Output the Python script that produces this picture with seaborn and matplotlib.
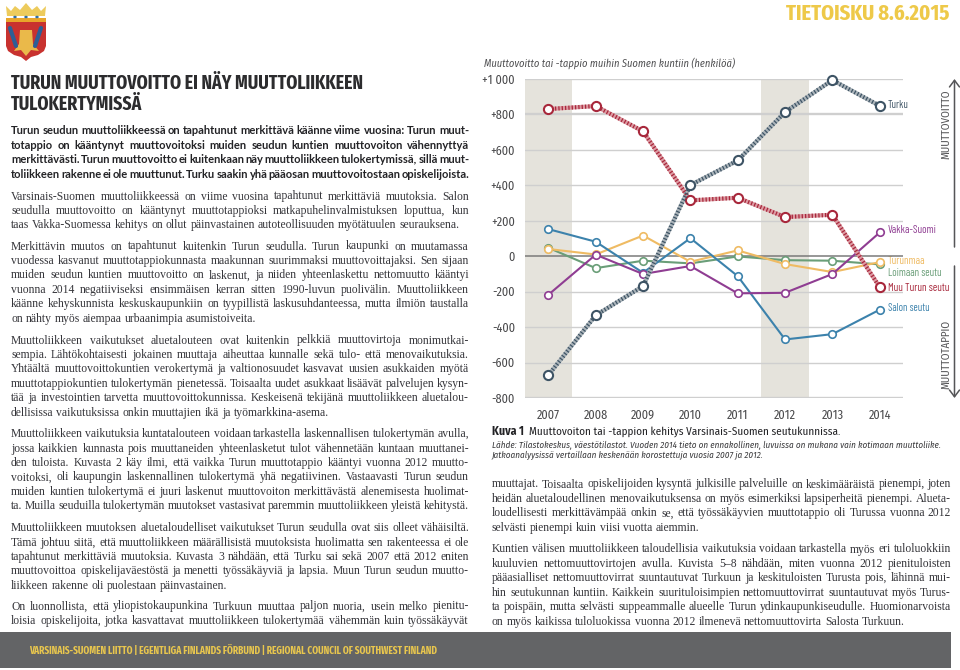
import matplotlib
matplotlib.use("Agg")
import matplotlib.pyplot as plt
from matplotlib.patches import Polygon, Rectangle, Ellipse
import pandas as pd
import seaborn as sns

years = [2007, 2008, 2009, 2010, 2011, 2012, 2013, 2014]
turku = [-671, -334, -169, 400, 539, 812, 992, 847]
muu_turun = [829, 846, 703, 314, 329, 220, 233, -175]
salo = [152, 81, -94, 101, -113, -470, -440, -302]
vakka = [-218, 8, -101, -56, -210, -207, -101, 133]
turunmaa = [40, 9, 116, -32, 32, -45, -90, -34]
loimaa = [47, -68, -26, -41, -2, -23, -26, -47]
y_ticks = [-800, -600, -400, -200, 0, 200, 400, 600, 800, 1000]
y_labels = ["-800", "-600", "-400", "-200", "0", "+200", "+400", "+600", "+800", "+1 000"]
highlight_years = [2007, 2012]

title_lines = ["TURUN MUUTTOVOITTO EI NÄY MUUTTOLIIKKEEN", "TULOKERTYMISSÄ"]
lead_lines = [
    "Turun seudun muuttoliikkeessä on tapahtunut merkittävä käänne viime vuosina: Turun muut-",
    "totappio on kääntynyt muuttovoitoksi muiden seudun kuntien muuttovoiton vähennyttyä",
    "merkittävästi. Turun muuttovoitto ei kuitenkaan näy muuttoliikkeen tulokertymissä, sillä muut-",
    "toliikkeen rakenne ei ole muuttunut. Turku saakin yhä pääosan muuttovoitostaan opiskelijoista.",
]
left_paragraphs = [
    (195, ["Varsinais-Suomen muuttoliikkeessä on viime vuosina tapahtunut merkittäviä muutoksia. Salon",
           "seudulla muuttovoitto on kääntynyt muuttotappioksi matkapuhelinvalmistuksen loputtua, kun",
           "taas Vakka-Suomessa kehitys on ollut päinvastainen autoteollisuuden myötätuulen seurauksena."], False),
    (245, ["Merkittävin muutos on tapahtunut kuitenkin Turun seudulla. Turun kaupunki on muutamassa",
           "vuodessa kasvanut muuttotappiokunnasta maakunnan suurimmaksi muuttovoittajaksi. Sen sijaan",
           "muiden seudun kuntien muuttovoitto on laskenut, ja niiden yhteenlaskettu nettomuutto kääntyi",
           "vuonna 2014 negatiiviseksi ensimmäisen kerran sitten 1990-luvun puolivälin. Muuttoliikkeen",
           "käänne kehyskunnista keskuskaupunkiin on tyypillistä laskusuhdanteessa, mutta ilmiön taustalla",
           "on nähty myös aiempaa urbaanimpia asumistoiveita."], False),
    (339, ["Muuttoliikkeen vaikutukset aluetalouteen ovat kuitenkin pelkkiä muuttovirtoja monimutkai-",
           "sempia. Lähtökohtaisesti jokainen muuttaja aiheuttaa kunnalle sekä tulo- että menovaikutuksia.",
           "Yhtäältä muuttovoittokuntien verokertymä ja valtionosuudet kasvavat uusien asukkaiden myötä",
           "muuttotappiokuntien tulokertymän pienetessä. Toisaalta uudet asukkaat lisäävät palvelujen kysyn-",
           "tää ja investointien tarvetta muuttovoittokunnissa. Keskeisenä tekijänä muuttoliikkeen aluetalou-",
           "dellisissa vaikutuksissa onkin muuttajien ikä ja työmarkkina-asema."], False),
    (432.7, ["Muuttoliikkeen vaikutuksia kuntatalouteen voidaan tarkastella laskennallisen tulokertymän avulla,",
             "jossa kaikkien kunnasta pois muuttaneiden yhteenlasketut tulot vähennetään kuntaan muuttanei-",
             "den tuloista. Kuvasta 2 käy ilmi, että vaikka Turun muuttotappio kääntyi vuonna 2012 muutto-",
             "voitoksi, oli kaupungin laskennallinen tulokertymä yhä negatiivinen. Vastaavasti Turun seudun",
             "muiden kuntien tulokertymä ei juuri laskenut muuttovoiton merkittävästä alenemisesta huolimat-",
             "ta. Muilla seuduilla tulokertymän muutokset vastasivat paremmin muuttoliikkeen yleistä kehitystä."], True),
    (526.7, ["Muuttoliikkeen muutoksen aluetaloudelliset vaikutukset Turun seudulla ovat siis olleet vähäisiltä.",
             "Tämä johtuu siitä, että muuttoliikkeen määrällisistä muutoksista huolimatta sen rakenteessa ei ole",
             "tapahtunut merkittäviä muutoksia. Kuvasta 3 nähdään, että Turku sai sekä 2007 että 2012 eniten",
             "muuttovoittoa opiskelijaväestöstä ja menetti työssäkäyviä ja lapsia. Muun Turun seudun muutto-",
             "liikkeen rakenne oli puolestaan päinvastainen."], False),
    (605, ["On luonnollista, että yliopistokaupunkina Turkuun muuttaa paljon nuoria, usein melko pienitu-",
           "loisia opiskelijoita, jotka kasvattavat muuttoliikkeen tulokertymää vähemmän kuin työssäkäyvät"], True),
]
right_paragraphs = [
    (483, ["muuttajat. Toisaalta opiskelijoiden kysyntä julkisille palveluille on keskimääräistä pienempi, joten",
           "heidän aluetaloudellinen menovaikutuksensa on myös esimerkiksi lapsiperheitä pienempi. Alueta-",
           "loudellisesti merkittävämpää onkin se, että työssäkäyvien muuttotappio oli Turussa vuonna 2012",
           "selvästi pienempi kuin viisi vuotta aiemmin."], False),
    (548, ["Kuntien välisen muuttoliikkeen taloudellisia vaikutuksia voidaan tarkastella myös eri tuloluokkiin",
           "kuuluvien nettomuuttovirtojen avulla. Kuvista 5–8 nähdään, miten vuonna 2012 pienituloisten",
           "pääasialliset nettomuuttovirrat suuntautuvat Turkuun ja keskituloisten Turusta pois, lähinnä mui-",
           "hin seutukunnan kuntiin. Kaikkein suurituloisimpien nettomuuttovirrat suuntautuvat myös Turus-",
           "ta poispäin, mutta selvästi suppeammalle alueelle Turun ydinkaupunkiseudulle. Huomionarvoista",
           "on myös kaikissa tuloluokissa vuonna 2012 ilmenevä nettomuuttovirta Salosta Turkuun."], False),
]

W, H = 960, 670
sns.set_theme(style="white")
plt.rcParams["font.family"] = ["Lato", "DejaVu Sans"]
fig = plt.figure(figsize=(W / 100, H / 100), dpi=100)
page = fig.add_axes([0, 0, 1, 1], zorder=0)
page.set_xlim(0, W)
page.set_ylim(H, 0)
page.axis("off")
renderer = fig.canvas.get_renderer()

NARROW = ["Fira Sans Extra Condensed", "Barlow Condensed", "Lato"]
LABEL_FONT = ["Barlow Condensed", "Fira Sans Extra Condensed", "Lato"]
COND = ["Fira Sans Condensed", "Lato"]
SERIF = ["Liberation Serif", "DejaVu Serif"]
SERIF_SIZE = 8.4
LEAD_SIZE = 8.0
TEXT_C = "#35353a"


def width_of(word, **kw):
    t = page.text(0, 0, word, **kw)
    w = t.get_window_extent(renderer).width
    t.remove()
    return w


def fit_text(x, y, s, target_w, size0, **kw):
    size = size0 * target_w / width_of(s, fontsize=size0, **kw)
    return page.text(x, y, s, fontsize=size, va="center", ha="left", **kw)


def set_line(x0, x1, y, line, justify, **kw):
    words = line.split(" ")
    widths = [width_of(w, **kw) for w in words]
    space = width_of("n n", **kw) - width_of("nn", **kw)
    if justify and len(words) > 1:
        space = (x1 - x0 - sum(widths)) / (len(words) - 1)
    x = x0
    for w, wd in zip(words, widths):
        page.text(x, y, w, va="center_baseline", ha="left", **kw)
        x += wd + space


def paragraphs(blocks, x0, x1):
    for y0, lines, last_full in blocks:
        for i, line in enumerate(lines):
            just = last_full or i < len(lines) - 1
            set_line(x0, x1, y0 + i * 14.42, line, just, family=SERIF,
                     fontsize=SERIF_SIZE, color=TEXT_C)


# Page furniture
page.add_patch(Rectangle((0, 632), 951, 36, color="#636466", lw=0))
fit_text(29, 650.5, "VARSINAIS-SUOMEN LIITTO | EGENTLIGA FINLANDS FÖRBUND | REGIONAL COUNCIL OF SOUTHWEST FINLAND",
         411, 9, family=NARROW, weight="bold", color="#e8c64e")
fit_text(786, 14, "TIETOISKU 8.6.2015", 164, 18, family=NARROW, weight="bold", color="#eec949")

# Coat of arms
page.add_patch(Polygon([(6, 20), (46, 20), (46, 46), (44, 51), (38, 55), (31, 57), (26, 61),
                        (21, 57), (14, 55), (8, 51), (6, 46)],
                       closed=True, color="#c8322f", lw=0))
page.add_patch(Rectangle((6, 18), 40, 4, color="#e8a52a", lw=0))
page.add_patch(Polygon([(7, 16), (6, 6), (11, 11), (15, 6), (20, 10), (26, 3), (32, 10), (37, 6), (41, 11), (46, 6), (45, 16)],
                       closed=True, color="#edcb5c", lw=0))
for x in (15, 26, 37):
    page.add_patch(Ellipse((x, 17), 3.5, 2.5, color="#2f6ea5", lw=0))
page.plot([10, 16], [28, 46], color="#2d5f96", lw=3.0, solid_capstyle="round")
page.plot([41, 35], [28, 46], color="#2d5f96", lw=3.0, solid_capstyle="round")
page.add_patch(Polygon([(20, 30), (32, 30), (33, 44), (39, 51), (31, 50), (26, 56), (21, 50), (14, 51), (19, 44)],
                       closed=True, color="#eab94a", lw=0))

# Left column
fit_text(11, 83.3, title_lines[0], 352, 15, family=NARROW, weight="bold", color="#2c2c2e")
title_size = page.texts[-1].get_fontsize()
page.text(11, 104.7, title_lines[1], family=NARROW, weight="bold", fontsize=title_size,
          color="#2c2c2e", va="center", ha="left")
for i, line in enumerate(lead_lines):
    set_line(11, 469, 130 + i * 14.42, line, True, family=["Lato"], weight="bold",
             fontsize=LEAD_SIZE, color="#232326")
paragraphs(left_paragraphs, 11, 469)
paragraphs(right_paragraphs, 492, 951)

# Chart
L, R, T, B = 524.7, 903.4, 78.7, 398.0
ax = fig.add_axes([L / W, 1 - B / H, (R - L) / W, (B - T) / H], zorder=2)
ax.patch.set_alpha(0)
ax.set_xlim(2006.5, 2014.5)
ax.set_ylim(-800, 1000)
for yr in highlight_years:
    ax.axvspan(yr - 0.5, yr + 0.5, color="#e5e3dc", lw=0, zorder=0)
for v in y_ticks:
    ax.axhline(v, color="#7a7a7a" if v == 0 else "#cfcfcf",
               lw=1.1 if v == 0 else (1.7 if abs(v) in (800, 1000) else 1.0), zorder=1)

data = pd.DataFrame({"vuosi": years, "Turku": turku, "Muu Turun seutu": muu_turun,
                     "Salon seutu": salo, "Vakka-Suomi": vakka, "Turunmaa": turunmaa,
                     "Loimaan seutu": loimaa}).melt("vuosi", var_name="seutu", value_name="muutto")
thin = {"Loimaan seutu": "#6a9e78", "Turunmaa": "#efbb63", "Salon seutu": "#3c82ac", "Vakka-Suomi": "#8f3d92"}
thick = {"Muu Turun seutu": ("#dc9aa2", "#a8283c"), "Turku": ("#aab3b9", "#3e5465")}
for name, c in thin.items():
    sns.lineplot(data=data[data.seutu == name], x="vuosi", y="muutto", ax=ax, color=c, lw=1.5,
                 marker="o", markersize=5.4, markerfacecolor="white", markeredgecolor=c,
                 markeredgewidth=1.2, clip_on=False, zorder=4, errorbar=None)
for name, (light, dark) in thick.items():
    sub = data[data.seutu == name]
    sns.lineplot(data=sub, x="vuosi", y="muutto", ax=ax, color=light, lw=3.0, zorder=5, errorbar=None)
    sns.lineplot(data=sub, x="vuosi", y="muutto", ax=ax, color=dark, lw=3.0, dashes=(0.3, 0.5),
                 marker="o", markersize=6.6, markerfacecolor="white", markeredgecolor=dark,
                 markeredgewidth=1.5, clip_on=False, zorder=6, errorbar=None)

ax.set_xlabel("")
ax.set_ylabel("")
ax.set_xticks(years)
ax.set_xticklabels(years)
ax.set_yticks(y_ticks)
ax.set_yticklabels(y_labels)
ax.tick_params(axis="both", length=0, labelsize=8.8, labelcolor="#4a4a4c")
ax.tick_params(axis="y", pad=7)
ax.tick_params(axis="x", pad=8)
for lab in ax.get_xticklabels() + ax.get_yticklabels():
    lab.set_family(COND)
sns.despine(ax=ax, left=True, bottom=True, top=True, right=True)

fit_text(484, 63.5, "Muuttovoitto tai -tappio muihin Suomen kuntiin (henkilöä)", 252, 8.5,
         family=COND, style="italic", color="#505052")

labels = [("Turku", 105, "#3e5465", 21), ("Vakka-Suomi", 230, "#8f3d92", 49),
          ("Turunmaa", 261.5, "#efbb63", 38), ("Loimaan seutu", 272.5, "#6a9e78", 54),
          ("Muu Turun seutu", 288, "#a8283c", 62), ("Salon seutu", 308, "#3c82ac", 42)]
for s, y, c, w in labels:
    fit_text(888, y, s, w, 9, family=LABEL_FONT, color=c)

# Direction arrows
page.annotate("", xy=(954.5, 79), xytext=(954.5, 247), zorder=3,
              arrowprops=dict(arrowstyle="->,head_width=0.3,head_length=0.4", color="#555557", lw=1.1,
                              shrinkA=0, shrinkB=0))
page.annotate("", xy=(954.5, 398), xytext=(954.5, 266), zorder=3,
              arrowprops=dict(arrowstyle="->,head_width=0.3,head_length=0.4", color="#555557", lw=1.1,
                              shrinkA=0, shrinkB=0))
page.text(946.5, 124, "MUUTTOVOITTO", rotation=90, fontsize=7.9, family=COND,
          color="#555557", va="center", ha="center")
page.text(946.5, 354, "MUUTTOTAPPIO", rotation=90, fontsize=7.9, family=COND,
          color="#555557", va="center", ha="center")

# Caption
fit_text(491.5, 431.7, "Kuva 1", 32, 8.5, family=COND, weight="bold", color="#222225")
fit_text(529, 431.7, "Muuttovoiton tai -tappion kehitys Varsinais-Suomen seutukunnissa.", 312.5, 8.5,
         family=COND, color="#222225")
fit_text(491.5, 445, "Lähde: Tilastokeskus, väestötilastot. Vuoden 2014 tieto on ennakollinen, luvuissa on mukana vain kotimaan muuttoliike.",
         447.5, 7.2, family=COND, style="italic", color="#3a3a3c")
page.text(491.5, 455, "Jatkoanalyysissä vertaillaan keskenään korostettuja vuosia 2007 ja 2012.",
          family=COND, style="italic", fontsize=page.texts[-1].get_fontsize(), color="#3a3a3c",
          va="center", ha="left")

fig.savefig("out.png", dpi=100)
